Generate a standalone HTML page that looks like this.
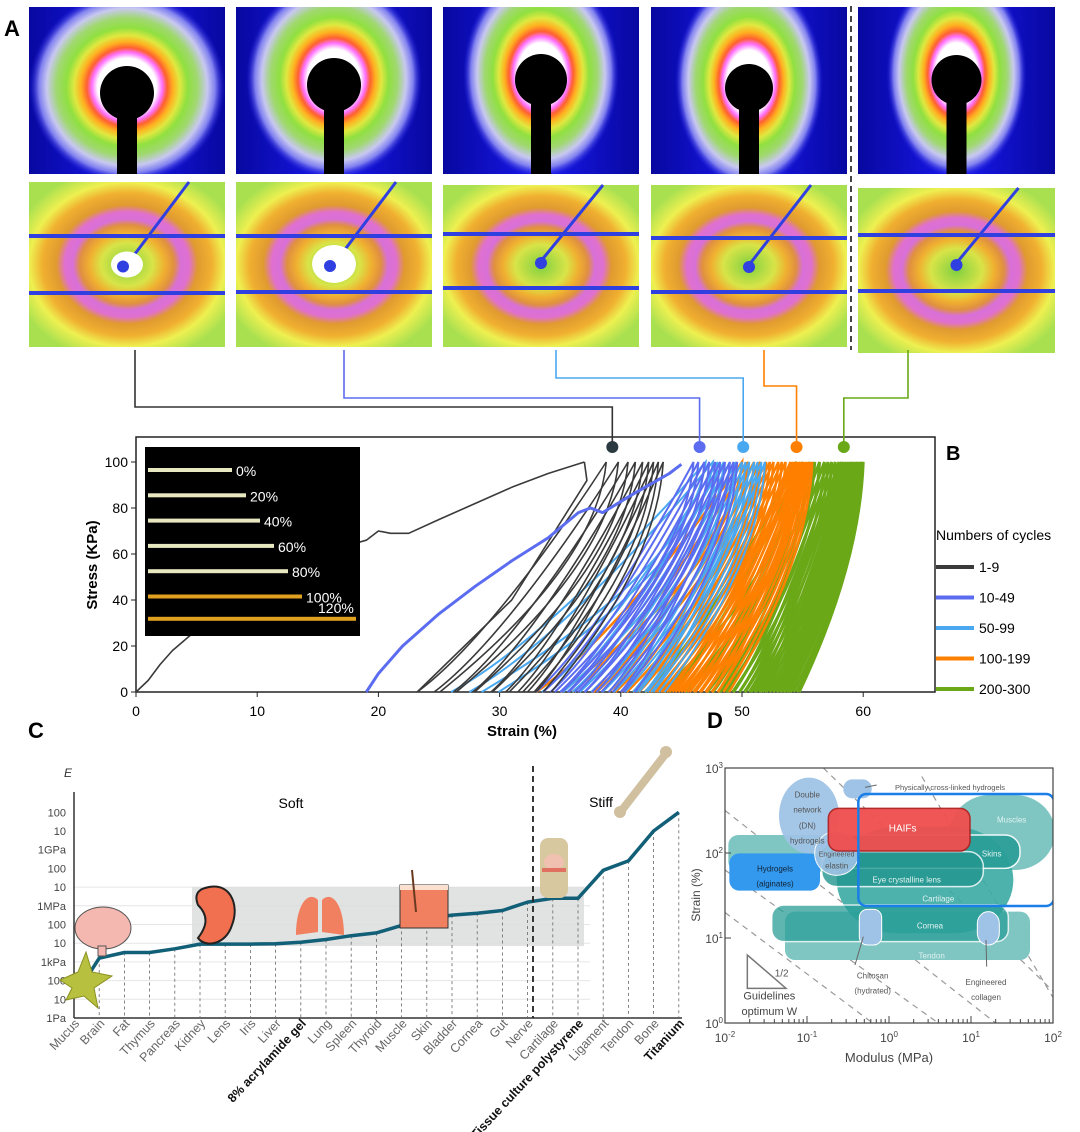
<!DOCTYPE html>
<html><head><meta charset="utf-8">
<style>
html,body{margin:0;padding:0;background:#fff;}
svg{display:block;font-family:"Liberation Sans",Arial,sans-serif;}
</style></head>
<body>
<svg id="fig" width="1080" height="1132" viewBox="0 0 1080 1132" xmlns="http://www.w3.org/2000/svg">
<defs>
<radialGradient id="saxs" cx="0.5" cy="0.5" r="0.5">
<stop offset="0" stop-color="#ffffff"/><stop offset="0.3" stop-color="#ffffff"/>
<stop offset="0.36" stop-color="#ff70ff"/><stop offset="0.41" stop-color="#ff6030"/>
<stop offset="0.47" stop-color="#ffb020"/><stop offset="0.54" stop-color="#e0e840"/>
<stop offset="0.62" stop-color="#90e040"/><stop offset="0.72" stop-color="#a0d870"/>
<stop offset="0.82" stop-color="#c8c8f0"/><stop offset="0.9" stop-color="#8080f0"/>
<stop offset="1" stop-color="#2020e0" stop-opacity="0"/>
</radialGradient>
<linearGradient id="blueBg" x1="0" y1="0" x2="1" y2="0">
<stop offset="0" stop-color="#0808a0"/><stop offset="0.5" stop-color="#1818ee"/><stop offset="1" stop-color="#0808a0"/>
</linearGradient>
<radialGradient id="waxs" cx="0.5" cy="0.5" r="0.6">
<stop offset="0" stop-color="#80d040"/><stop offset="0.22" stop-color="#d8e448"/>
<stop offset="0.32" stop-color="#f0b030"/><stop offset="0.4" stop-color="#e09040"/>
<stop offset="0.46" stop-color="#d870d8"/><stop offset="0.53" stop-color="#e070d0"/>
<stop offset="0.6" stop-color="#e09a30"/><stop offset="0.72" stop-color="#f0b030"/>
<stop offset="0.83" stop-color="#eef050"/><stop offset="1" stop-color="#a8e050"/>
</radialGradient>
</defs>
<g id="panelA"></g>
<g id="panelB"></g>
<g id="panelC"></g>
<g id="panelD"></g>
</svg>
<script>
// ---------- Panel B data ----------
const firstLoadStrain = [0,1,2,3,5,8,10,14,17,19,20,21,22.5,25,28,31,34,37];
const firstLoadStress = [0,5,12,18,27,40,47,57,63,66,70,69,69,75,82,89,95,100];
const blueFirstStrain = [19,20,22,25,28,31,34,36.5,37.5,38.5,41,44,45];
const blueFirstStress = [0,8,20,34,46,57,67,78,80,78,86,95,99];
const blackStart = [23.2,24.6,26.2,27.8,29.3,30.5,31.5,32.3,33];
const blackPeak = [38.8,39.8,40.6,41.2,41.8,42.3,42.7,43.1,43.5];
const blueStart = [33,33.6,34.2,35,35.6,36.2,37,38,39,40];
const bluePeak = [46,46.4,46.9,47.3,47.8,48.2,48.6,49,49.3,49.6];
const lblueStart = [26,27.5,33.5,35,36,37,38,39,40,41,41.5,42,42.5];
const lbluePeak = [47,47.6,48,48.5,49,49.5,50,50.3,50.6,51,51.3,51.6,51.9];
const orangeStart = [33,36,38,39,40,41,41.5,42,42.5,43,43.5,44,44.5,45,45.5,46,46.5,47,47.5,48];
const orangePeak = [50,50.5,51,51.5,52,52.3,52.6,53,53.3,53.6,54,54.2,54.4,54.6,54.8,55,55.2,55.4,55.6,55.8];
const greenStart = [42,44,46,47,47.6,48.2,48.8,49.3,49.8,50.2,50.6,51,51.4,51.7,52,52.3,52.6,52.9,53.2,53.5,53.8,54];
const greenPeak = [54.5,55,55.6,56,56.4,56.8,57.1,57.4,57.7,58,58.2,58.4,58.6,58.8,59,59.1,59.3,59.5,59.6,59.8,59.9,60];
const xTicksB = [0,10,20,30,40,50,60];
const yTicksB = [0,20,40,60,80,100];
const legendLabels = ["1-9","10-49","50-99","100-199","200-300"];
const legendColors = ["#3a3a3a","#5b6cf0","#4aa8f0","#ff8000","#6aa818"];
const insetLabels = ["0%","20%","40%","60%","80%","100%","120%"];
const insetLengths = [0,20,40,60,80,100,120];
// ---------- Panel C data ----------
const tissues = ["Mucus","Brain","Fat","Thymus","Pancreas","Kidney","Lens","Iris","Liver","8% acrylamide gel","Lung","Spleen","Thyroid","Muscle","Skin","Bladder","Cornea","Gut","Nerve","Cartilage","Tissue culture polystyrene","Ligament","Tendon","Bone","Titanium"];
const logModulus = [1.1,3.2,3.5,3.5,3.7,3.95,3.95,3.95,3.97,4.05,4.2,4.4,4.55,4.95,5.3,5.5,5.6,5.75,6.2,6.4,6.4,7.9,8.4,10.0,11.0];
const yLabelsC = ["1Pa","10","100","1kPa","10","100","1MPa","10","100","1GPa","10","100"];
// ---------- Panel D data ----------
const xTickExpD = [-2,-1,0,1,2];
const yTickExpD = [0,1,2,3];

const NS="http://www.w3.org/2000/svg";
function mk(tag,attrs,parent,txt){const e=document.createElementNS(NS,tag);for(const k in attrs)e.setAttribute(k,attrs[k]);if(txt!==undefined)e.textContent=txt;parent.appendChild(e);return e;}

// ================= Panel A =================
const A=document.getElementById('panelA');
let t=mk('text',{x:4,y:36,'font-size':22,'font-weight':'bold'},A,'A');

const colsX=[29,236,443,651,858], colsW=[196,196,196,196,197];
const ringRx=[98,88,78,74,70], ringRy=[96,100,104,106,104];
const stopY=[93,85,80,88,80], stopR=[27,27,26,24,25];
const waxsTopY=[182,182,185,185,188];
const lineY1=[236,236,234,238,235], lineY2=[293,292,288,292,291];
const dotR=[10,16,5,5,5];
colsX.forEach((x,i)=>{
  const w=colsW[i], cx=x+w/2;
  const g=mk('g',{},A);
  
  mk('rect',{x:x,y:7,width:w,height:167,fill:'url(#blueBg)'},g);
  const cl='c'+i;
  const cp=mk('clipPath',{id:cl},g);mk('rect',{x:x,y:7,width:w,height:167},cp);
  const gg=mk('g',{'clip-path':'url(#'+cl+')'},g);
  mk('ellipse',{cx:cx,cy:stopY[i]-6,rx:ringRx[i],ry:ringRy[i],fill:'url(#saxs)'},gg);
  mk('circle',{cx:cx,cy:stopY[i],r:stopR[i],fill:'#000'},gg);
  mk('rect',{x:cx-10,y:stopY[i],width:20,height:100,fill:'#000'},gg);
  const h=mk('g',{},A);
  
  const ty=waxsTopY[i], hh=347+(i==4?6:0)-ty;
  mk('rect',{x:x,y:ty,width:w,height:hh,fill:'url(#waxs)'},h);
  const cy=(lineY1[i]+lineY2[i])/2;
  mk('line',{x1:cx,y1:cy,x2:cx+62,y2:ty,stroke:'#3040e0','stroke-width':3},h);
  mk('rect',{x:x,y:lineY1[i]-2,width:w,height:4,fill:'#3040e0'},h);
  mk('rect',{x:x,y:lineY2[i]-2,width:w,height:4,fill:'#3040e0'},h);
  if(i<2) mk('ellipse',{cx:cx,cy:cy,rx:dotR[i]+6,ry:dotR[i]+3,fill:'#fff'},h);
  mk('circle',{cx:cx-(i<2?4:0),cy:cy+2,r:6,fill:'#3040e0'},h);
});
t=mk('line',{x1:851,y1:6,x2:851,y2:350,stroke:'#444','stroke-width':2,'stroke-dasharray':'6,4'},A);


// ================= Panel B =================
const B=document.getElementById('panelB');
const bx=s=>136+s*12.12, by=v=>692-v*2.3;
t=mk('rect',{x:136,y:437,width:799,height:255,fill:'none',stroke:'#222','stroke-width':1.5},B);

xTicksB.forEach(v=>{mk('line',{x1:bx(v),y1:692,x2:bx(v),y2:697,stroke:'#222'},B);
  t=mk('text',{x:bx(v),y:716,'font-size':14,'text-anchor':'middle'},B,String(v));
  });
yTicksB.forEach(v=>{mk('line',{x1:131,y1:by(v),x2:136,y2:by(v),stroke:'#222'},B);
  t=mk('text',{x:128,y:by(v)+5,'font-size':14,'text-anchor':'end'},B,String(v));
  });
t=mk('text',{x:522,y:736,'font-size':15,'text-anchor':'middle','font-weight':'bold'},B,'Strain (%)');

t=mk('text',{x:0,y:0,'font-size':15,'text-anchor':'middle','font-weight':'bold',transform:'translate(97,565) rotate(-90)'},B,'Stress (KPa)');

t=mk('text',{x:946,y:460,'font-size':20,'font-weight':'bold'},B,'B');


function poly(xs,ys,color,w,name){
  let d=xs.map((s,i)=>(i?'L':'M')+bx(s).toFixed(1)+','+by(ys[i]).toFixed(1)).join(' ');
  const p=mk('path',{d:d,fill:'none',stroke:color,'stroke-width':w,'stroke-linejoin':'round'},B);
  return p;}
function loop(s0,p,color,w,name){
  const d0=p-s0;
  const d='M'+bx(s0)+','+by(0)+' C'+bx(s0+0.3*d0)+','+by(18)+' '+bx(p-0.3*d0)+','+by(62)+' '+bx(p)+','+by(100)+
    ' C'+bx(p-0.05*d0)+','+by(55)+' '+bx(s0+0.3*d0)+','+by(12)+' '+bx(s0+0.12*d0)+','+by(0);
  const e=mk('path',{d:d,fill:'none',stroke:color,'stroke-width':w},B);
  }
greenStart.forEach((s,i)=>loop(s,greenPeak[i],legendColors[4],3,'loop-200-300'));
orangeStart.forEach((s,i)=>loop(s,orangePeak[i],legendColors[3],2.5,'loop-100-199'));
lblueStart.forEach((s,i)=>loop(s,lbluePeak[i],legendColors[2],2,'loop-50-99'));
blueStart.forEach((s,i)=>loop(s,bluePeak[i],legendColors[1],2,'loop-10-49'));
blackStart.forEach((s,i)=>loop(s,blackPeak[i],legendColors[0],1.6,'loop-1-9'));
poly(firstLoadStrain,firstLoadStress,legendColors[0],1.6,'first-loading-curve');
poly([37,37.2,31,23.2],[100,92,40,0],legendColors[0],1.6,'first-unloading-curve');
poly(blueFirstStrain,blueFirstStress,legendColors[1],3,'cycle10-loading-curve');
// inset
const ins=mk('g',{},B);
mk('rect',{x:145,y:447,width:215,height:189,fill:'#000'},ins);
insetLabels.forEach((lab,i)=>{
  const y=470+i*25.3+(i==6?-3:0);
  const end=232+insetLengths[i]*0.7+(i==6?40:0);
  mk('rect',{x:148,y:y-2,width:end-148,height:4,fill:i>4?'#e0a020':'#e8e8c0'},ins);
  mk('text',{x:i==6?318:end+4,y:i==6?y-6:y+6,'font-size':14,fill:'#fff'},ins,lab);
});
// markers & connectors
const markerX=[39.3,46.5,50.1,54.5,58.4];
const connTopX=[135,344,556,764,908];
const connY=[407,398,378,386,398];
markerX.forEach((m,i)=>{
  const c=legendColors[i];
  const pth=mk('path',{d:'M'+connTopX[i]+',350 L'+connTopX[i]+','+connY[i]+' L'+bx(m)+','+connY[i]+' L'+bx(m)+',447',fill:'none',stroke:i==0?'#333':c,'stroke-width':1.6},B);
  
  const cc=mk('circle',{cx:bx(m),cy:447,r:6,fill:i==0?'#2b3a40':c},B);
  
});
// legend
t=mk('text',{x:936,y:540,'font-size':14},B,'Numbers of cycles');

legendLabels.forEach((l,i)=>{
  const y=567+i*30.5;
  const g=mk('g',{},B);
  mk('line',{x1:936,y1:y,x2:974,y2:y,stroke:legendColors[i],'stroke-width':4},g);
  mk('text',{x:979,y:y+5,'font-size':14},g,l);
});

// ================= Panel C =================
const C=document.getElementById('panelC');
const cxF=i=>74+i*25.2, cyF=l=>1018-l*18.7;
t=mk('text',{x:28,y:738,'font-size':22,'font-weight':'bold'},C,'C');

for(let l=1;l<=7;l++){mk('line',{x1:74,y1:cyF(l),x2:590,y2:cyF(l),stroke:'#e6e6e6','stroke-width':1},C);}
t=mk('rect',{x:192,y:cyF(7),width:392,height:cyF(3.85)-cyF(7),fill:'#dcdddd',opacity:0.85},C);

mk('line',{x1:74,y1:792,x2:74,y2:1018,stroke:'#333','stroke-width':1.5},C);
mk('line',{x1:74,y1:1018,x2:682,y2:1018,stroke:'#333','stroke-width':1.5},C);
t=mk('text',{x:64,y:777,'font-size':12,'font-style':'italic',fill:'#333'},C,'E');
yLabelsC.forEach((lab,l)=>{t=mk('text',{x:66,y:cyF(l)+4,'font-size':11,'text-anchor':'end',fill:'#444'},C,lab);
  });
tissues.forEach((n,i)=>{
  const x=cxF(i);
  if(i>0){const dl=mk('line',{x1:x,y1:cyF(logModulus[i]),x2:x,y2:1018,stroke:'#666','stroke-width':0.8,'stroke-dasharray':'3,3'},C);
    }
  const bold=(n=="8% acrylamide gel"||n=="Tissue culture polystyrene"||n=="Titanium");
  const lt=mk('text',{x:0,y:0,'font-size':12.5,'text-anchor':'end',fill:bold?'#111':'#666','font-weight':bold?'bold':'normal',transform:'translate('+(x+6)+',1024) rotate(-47)'},C,n);
  
});
let dC=logModulus.map((v,i)=>(i?'L':'M')+cxF(i).toFixed(1)+','+cyF(v).toFixed(1)).join(' ');
t=mk('path',{d:dC,fill:'none',stroke:'#125f78','stroke-width':3.5,'stroke-linejoin':'round'},C);

t=mk('line',{x1:533,y1:766,x2:533,y2:1018,stroke:'#222','stroke-width':1.8,'stroke-dasharray':'6,4'},C);

mk('text',{x:291,y:808,'font-size':14,'text-anchor':'middle'},C,'Soft');
mk('text',{x:601,y:807,'font-size':14,'text-anchor':'middle'},C,'Stiff');
// illustrations
function ill(name,fn){const g=mk('g',{},C);fn(g);}
ill('brain-icon',g=>{mk('ellipse',{cx:103,cy:928,rx:28,ry:21,fill:'#f5b8b0',stroke:'#555','stroke-width':1},g);mk('rect',{x:98,y:946,width:8,height:10,fill:'#f5b8b0',stroke:'#555'},g);});
ill('cell-icon',g=>{mk('path',{d:'M60,980 L78,972 L86,952 L92,972 L112,976 L94,988 L98,1008 L84,996 L66,1000 L72,988 Z',fill:'#b8c040',stroke:'#8a9020'},g);});
ill('kidney-icon',g=>{mk('path',{d:'M205,888 C230,880 240,905 232,925 C226,945 205,948 198,938 C208,925 208,915 198,905 C194,895 198,890 205,888 Z',fill:'#f07050',stroke:'#222','stroke-width':2},g);});
ill('lung-icon',g=>{mk('path',{d:'M318,885 L318,900 C308,890 296,905 296,935 L318,932 Z M322,885 L322,900 C332,890 344,905 344,935 L322,932 Z',fill:'#f08060'},g);});
ill('skin-icon',g=>{mk('rect',{x:400,y:885,width:48,height:43,fill:'#f08060',stroke:'#333'},g);mk('rect',{x:400,y:885,width:48,height:5,fill:'#fbe0d0'},g);mk('line',{x1:412,y1:870,x2:416,y2:912,stroke:'#6a3a20','stroke-width':2},g);});
ill('knee-icon',g=>{mk('rect',{x:540,y:838,width:28,height:60,rx:8,fill:'#d8c8a0'},g);mk('ellipse',{cx:554,cy:862,rx:10,ry:8,fill:'#f0c0b0'},g);mk('rect',{x:542,y:868,width:24,height:4,fill:'#e07060'},g);});
ill('bone-icon',g=>{mk('line',{x1:622,y1:810,x2:664,y2:756,stroke:'#d0c0a0','stroke-width':8,'stroke-linecap':'round'},g);mk('circle',{cx:666,cy:752,r:6,fill:'#d0c0a0'},g);mk('circle',{cx:620,cy:812,r:6,fill:'#d0c0a0'},g);});

// ================= Panel D =================
const D=document.getElementById('panelD');
const dx=e=>725+(e+2)*82, dy=e=>1023-e*85;
t=mk('text',{x:707,y:728,'font-size':22,'font-weight':'bold'},D,'D');

const clip=mk('clipPath',{id:'dclip'},D);mk('rect',{x:725,y:768,width:328,height:255},clip);
const G=mk('g',{'clip-path':'url(#dclip)'},D);
function rr(name,x1,y1,x2,y2,r,fill,stroke,sw,op){const e=mk('rect',{x:x1,y:y1,width:x2-x1,height:y2-y1,rx:r,fill:fill,stroke:stroke||'none','stroke-width':sw||0,opacity:op||1},G);return e;}
const zx=v=>690+v/3, zy=v=>700+v/3;
[[-2,2.5,1.3,0],[-2,1.8,0.6,0],[-2,1.3,-0.2,0],[-0.8,3,2.4,0],[0.4,2.9,2,0.3]].forEach(a=>{
  const l=mk('line',{x1:dx(a[0]),y1:dy(a[1]),x2:dx(a[2]),y2:dy(a[3]),stroke:'#999','stroke-width':1.2,'stroke-dasharray':'6,5'},G);
  });
rr('muscles-region',zx(780),zy(285),zx(1095),zy(510),40,'#7fc6c2');
rr('tendon-region',zx(285),zy(635),zx(1020),zy(780),10,'#7fc6c2');
rr('left-teal-band',zx(115),zy(405),zx(540),zy(515),10,'#7fc6c2');
rr('cartilage-region',zx(440),zy(380),zx(970),zy(700),60,'#3aa8a3',null,0,0.9);
rr('skins-region',zx(395),zy(405),zx(990),zy(505),15,'#2a9e98','#fff',1.5,0.9);
rr('eye-lens-region',zx(395),zy(455),zx(880),zy(560),15,'#22968f','#fff',1.5,0.8);
rr('cornea-region',zx(245),zy(615),zx(955),zy(725),12,'#2a9e98','#fff',1.5,0.75);
rr('alginate-hydrogels',zx(118),zy(460),zx(390),zy(572),10,'#3399ee');
let el=mk('ellipse',{cx:zx(357),cy:zy(347),rx:30,ry:38,fill:'#9fc3e6',opacity:0.95},G);
el=mk('circle',{cx:zx(440),cy:zy(460),r:22,fill:'#9fc3e6',stroke:'#fff','stroke-width':1,opacity:0.9},G);
rr('physical-hydrogels',zx(460),zy(238),zx(545),zy(295),9,'#9fc3e6');
rr('haifs-region',zx(415),zy(325),zx(840),zy(453),10,'#f04e4e','#b02020',1.5,0.95);
rr('performance-box',zx(505),zy(282),zx(1092),zy(618),8,'none','#1a7fe8',2.5);
rr('chitosan',zx(508),zy(628),zx(575),zy(735),8,'#9fc3e6','#fff',1);
rr('engineered-collagen',zx(862),zy(635),zx(928),zy(735),12,'#9fc3e6','#fff',1);
function dt(x,y,s,txt,fill,anchor,name){const e=mk('text',{x:zx(x),y:zy(y),'font-size':s,fill:fill,'text-anchor':anchor||'middle'},D,txt);}
dt(352,293,8,'Double','#555','middle','dn-label');dt(352,338,8,'network','#555','middle','dn-label');dt(352,385,8,'(DN)','#555','middle','dn-label');dt(352,430,8,'hydrogels','#555','middle','dn-label');
dt(440,470,7,'Engineered','#555','middle','elastin-label');dt(440,505,8,'elastin','#555','middle','elastin-label');
dt(615,270,7.5,'Physically cross-linked hydrogels','#555','start','physical-hydrogels-label');
dt(638,395,10,'HAIFs','#fff','middle','haifs-label');
dt(965,368,8,'Muscles','#e0f2f0','middle','muscles-label');dt(905,470,8,'Skins','#e0f2f0','middle','skins-label');
dt(650,548,8,'Eye crystalline lens','#e0f2f0','middle','eye-lens-label');dt(745,605,8,'Cartilage','#e0f2f0','middle','cartilage-label');
dt(720,686,8,'Cornea','#e0f2f0','middle','cornea-label');dt(725,775,8,'Tendon','#e0f2f0','middle','tendon-label');
dt(255,515,8,'Hydrogels','#123','middle','alginate-label');dt(255,560,8,'(alginates)','#123','middle','alginate-label');
dt(548,835,8,'Chitosan','#555','middle','chitosan-label');dt(548,880,8,'(hydrated)','#555','middle','chitosan-label');
dt(888,855,8,'Engineered','#555','middle','collagen-label');dt(888,900,8,'collagen','#555','middle','collagen-label');
mk('line',{x1:zx(520),y1:zy(710),x2:zx(495),y2:zy(795),stroke:'#666'},D);
mk('line',{x1:zx(888),y1:zy(720),x2:zx(890),y2:zy(800),stroke:'#666'},D);
mk('line',{x1:zx(525),y1:zy(262),x2:zx(560),y2:zy(255),stroke:'#666'},D);
el=mk('path',{d:'M'+zx(172)+','+zy(765)+' L'+zx(172)+','+zy(865)+' L'+zx(288)+','+zy(865)+' Z',fill:'none',stroke:'#777','stroke-width':1.5},D);
dt(275,830,10,'1/2','#555','middle','slope-label');
dt(238,898,11,'Guidelines','#444','middle','guidelines-label');dt(238,945,11,'optimum W','#444','middle','guidelines-label');
el=mk('rect',{x:725,y:768,width:328,height:255,fill:'none',stroke:'#444','stroke-width':1.2},D);
xTickExpD.forEach(e=>{mk('line',{x1:dx(e),y1:1023,x2:dx(e),y2:1016,stroke:'#444'},D);
  for(let k=2;k<10&&e<2;k++){const xx=dx(e+Math.log10(k));mk('line',{x1:xx,y1:1023,x2:xx,y2:1019,stroke:'#444'},D);}
  const g=mk('text',{x:dx(e),y:1042,'font-size':12,'text-anchor':'middle',fill:'#444'},D);
  g.textContent='10';mk('tspan',{dy:-5,'font-size':8},g,String(e));});
yTickExpD.forEach(e=>{mk('line',{x1:725,y1:dy(e),x2:731,y2:dy(e),stroke:'#444'},D);
  const g=mk('text',{x:723,y:dy(e)+5,'font-size':12,'text-anchor':'end',fill:'#444'},D);
  g.textContent='10';mk('tspan',{dy:-5,'font-size':8},g,String(e));});
t=mk('text',{x:889,y:1062,'font-size':13,'text-anchor':'middle',fill:'#444'},D,'Modulus (MPa)');

t=mk('text',{x:0,y:0,'font-size':12,'text-anchor':'middle',fill:'#444',transform:'translate(700,895) rotate(-90)'},D,'Strain (%)');

</script>
</body></html>
